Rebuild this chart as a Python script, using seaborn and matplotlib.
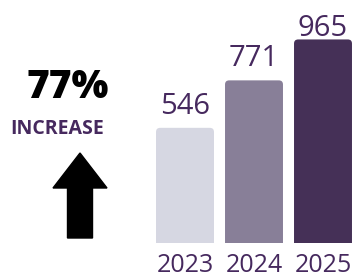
import matplotlib.pyplot as plt
import pandas as pd
import seaborn as sns
from matplotlib.patches import FancyArrow, FancyBboxPatch

# dados do grafico
years = ["2023", "2024", "2025"]
counts = [546, 771, 965]
bar_colors = ["#d4d6e4", "#877b9c", "#46295e"]
pct_label = "77%"
pct_caption = "INCREASE"

purple = "#46295e"

sns.set_theme(style="white")
plt.rcParams["font.family"] = ["Open Sans", "DejaVu Sans"]

W, H = 356, 278
fig = plt.figure(figsize=(W / 100, H / 100), dpi=100)

# eixo das barras (em pixels: x 150.5 -> 357.5, y 0 -> 243 a partir do topo)
ymax = 1152
ax = fig.add_axes([150.5 / W, 35 / H, 207 / W, 243 / H])
df = pd.DataFrame({"year": years, "count": counts})
sns.barplot(data=df, x="year", y="count", hue="year", palette=bar_colors,
            width=0.84, legend=False, ax=ax)
ax.set_ylim(0, ymax)
ax.set_xlim(-0.5, 2.5)

# cantos arredondados no topo das barras
rx = 0.06
ry = rx * (ymax / 243) * (207 / 3)
for p in list(ax.patches):
    x, w, h = p.get_x(), p.get_width(), p.get_height()
    fc = p.get_facecolor()
    p.remove()
    ax.add_patch(FancyBboxPatch((x, -ry), w, h + ry,
                                boxstyle=f"round,pad=0,rounding_size={rx}",
                                mutation_aspect=ry / rx, fc=fc, ec="none"))

# rotulos: ~14px acima da barra, mas sem sair da figura
px = ymax / 243
for i, v in enumerate(counts):
    ax.text(i, min(v + 14 * px, ymax - 36 * px), str(v), ha="center",
            va="baseline", fontsize=21, color=purple)

ax.set_xlabel("")
ax.set_ylabel("")
ax.set_yticks([])
ax.tick_params(axis="x", length=0, pad=7, labelsize=18, labelcolor=purple)
sns.despine(ax=ax, left=True, bottom=True)

# lado esquerdo: porcentagem e seta
lax = fig.add_axes([0, 0, 150 / W, 1])
lax.set_xlim(0, 150)
lax.set_ylim(H, 0)
lax.axis("off")
lax.text(68, 88, pct_label, ha="center", va="center", fontsize=28,
         fontweight="heavy", color="black")
lax.text(57, 129, pct_caption, ha="center", va="center", fontsize=14,
         fontweight="bold", color=purple)
lax.add_patch(FancyArrow(80, 238, 0, -85, width=25, head_width=54, head_length=35,
                         length_includes_head=True, color="black"))

fig.savefig("out.png", dpi=100)
